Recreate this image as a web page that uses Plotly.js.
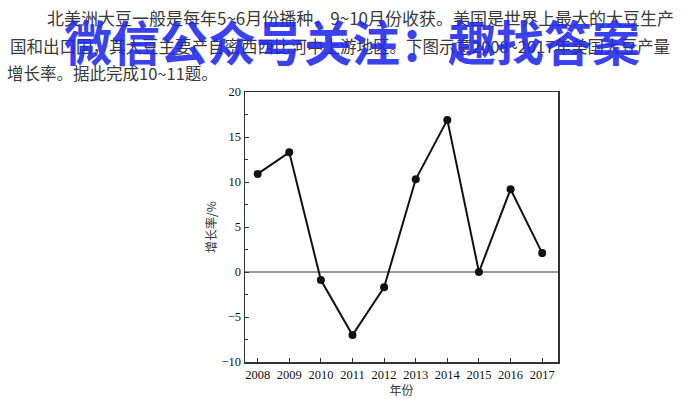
<!DOCTYPE html>
<html>
<head>
<meta charset="utf-8">
<script src="https://cdn.plot.ly/plotly-3.0.1.min.js"></script>
<style>
html,body{margin:0;padding:0;background:#fff;}
#chart{width:700px;height:399px;}
</style>
</head>
<body>
<div id="chart"></div>
<script>
// Data
const years = [2008, 2009, 2010, 2011, 2012, 2013, 2014, 2015, 2016, 2017];
const growthRate = [10.9, 13.3, -0.9, -7.0, -1.7, 10.3, 16.9, 0.0, 9.2, 2.1];
const yTickVals = [-10, -5, 0, 5, 10, 15, 20];
const yTickText = ['\u221210', '\u22125', '0', '5', '10', '15', '20'];
const textLine1 = '北美洲大豆一般是每年5~6月份播种，9~10月份收获。美国是世界上最大的大豆生产';
const textLine2 = '国和出口国，其大豆主要产自密西西比河中上游地区。下图示意2008~2017年美国大豆产量';
const textLine3 = '增长率。据此完成10~11题。';
const watermark = '微信公众号关注：趣找答案';

// plot area in pixels
const L = 245, R = 558, T = 92, B = 362, W = 700, H = 399;
const px = x => (x - L) / (R - L);
const py = y => (B - y) / (B - T);

const serif = 'Liberation Serif, Times New Roman, serif';
const cjk = 'Noto Sans CJK SC, sans-serif';

const trace = {
  x: years, y: growthRate, type: 'scatter', mode: 'lines+markers',
  line: {color: '#111', width: 2},
  marker: {color: '#111', size: 8},
  cliponaxis: false, hoverinfo: 'skip'
};

const layout = {
  width: W, height: H,
  margin: {l: L, r: W - R, t: T, b: H - B},
  paper_bgcolor: '#fff', plot_bgcolor: '#fff',
  showlegend: false,
  font: {family: serif, color: '#111', size: 12},
  xaxis: {
    range: [2007.6, 2017.5],
    tickvals: years, ticktext: years.map(String),
    ticks: 'inside', ticklen: 4, tickcolor: '#333', tickwidth: 1,
    showgrid: false, zeroline: false,
    showline: true, linecolor: '#333', linewidth: 1.5, mirror: true,
    tickfont: {family: serif, size: 12.5, color: '#111'},
    title: {text: '年份', font: {family: cjk, size: 12, color: '#333'}, standoff: 2}
  },
  yaxis: {
    range: [-10, 20],
    tickvals: yTickVals, ticktext: yTickText,
    ticks: 'inside', ticklen: 4, tickcolor: '#333', tickwidth: 1,
    minor: {dtick: 2.5, tick0: 0, ticks: 'inside', ticklen: 3, tickcolor: '#333', showgrid: false},
    showgrid: false, zeroline: false,
    showline: true, linecolor: '#333', linewidth: 1.5, mirror: true,
    tickfont: {family: serif, size: 12.5, color: '#111'},
    title: {text: '增长率/%', font: {family: cjk, size: 12, color: '#333'}, standoff: 2}
  },
  shapes: [{
    type: 'line', xref: 'paper', yref: 'y', x0: 0, x1: 1, y0: 0, y1: 0,
    line: {color: '#777', width: 1.5}, layer: 'below'
  }],
  annotations: [
    {text: textLine1, xref: 'paper', yref: 'paper', x: px(45), y: py(17), xanchor: 'left', yanchor: 'middle', showarrow: false, font: {family: cjk, size: 17, color: '#3a3a3a'}},
    {text: textLine2, xref: 'paper', yref: 'paper', x: px(8), y: py(46), xanchor: 'left', yanchor: 'middle', showarrow: false, font: {family: cjk, size: 16.5, color: '#3a3a3a'}},
    {text: textLine3, xref: 'paper', yref: 'paper', x: px(5), y: py(73), xanchor: 'left', yanchor: 'middle', showarrow: false, font: {family: cjk, size: 16.5, color: '#3a3a3a'}},
    {text: '<b>' + watermark + '</b>', xref: 'paper', yref: 'paper', x: px(352), y: py(40), xanchor: 'center', yanchor: 'middle', showarrow: false, font: {family: cjk, size: 48, color: 'rgba(30,40,235,0.9)'}}
  ]
};

Plotly.newPlot('chart', [trace], layout, {staticPlot: true, displayModeBar: false});
</script>
</body>
</html>
